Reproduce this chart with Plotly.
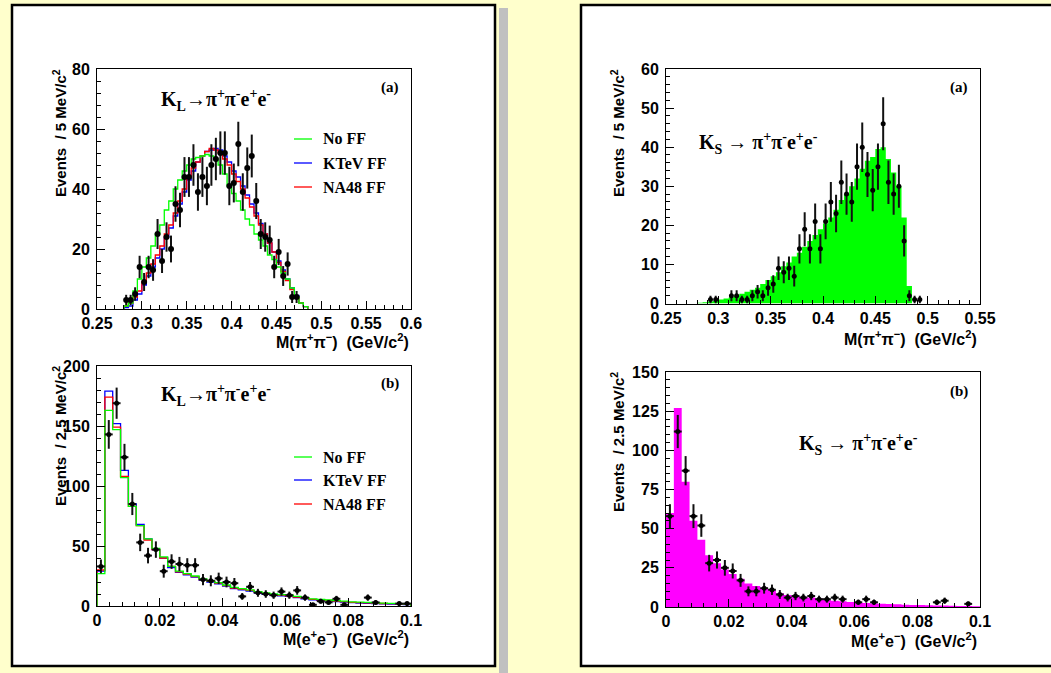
import numpy as np
import plotly.graph_objects as go

W, H = 1051, 673

# ------------------------------------------------------------------ data
MPP_BIN = 0.005      # 5 MeV bins
MEE_BIN = 0.0025     # 2.5 MeV bins

# K_L -> pi+ pi- e+ e- , M(pi pi)
KL_MPP_DATA_START = 0.280
KL_MPP_DATA = [3, 3, 5, 14, 9, 14, 13, 25, 16, 24, 20, 35, 33, 44, 44, 48, 39, 44, 41,
               48, 50, 52, 52, 41, 42, 55, 39, 47, 51, 36, 25, 24, 23, 14, 19, 11, 15, 4, 4]
KL_MPP_MC_START = 0.280
KL_MPP_NOFF = [1, 2, 6, 10, 14, 17, 21, 25, 28, 33, 36, 40, 43, 46, 48, 50, 50.5, 51, 51.5, 51,
               50, 48, 45, 41, 38.5, 36, 33, 30, 28, 25, 23, 21, 18, 16.5, 14, 12, 10, 7, 4, 2, 0.8]
KL_MPP_KTEV = [0.5, 1, 3, 5, 8, 11, 14, 17, 20, 24, 27, 31, 35, 39, 43, 46, 49, 51, 52.5, 53,
               53.5, 53, 51, 49, 46, 44, 41, 38, 35, 32, 28.5, 25, 22, 19, 16, 13, 10, 7, 4.5, 2, 0.8]
KL_MPP_NA48 = [1, 2, 4, 6, 9, 12, 15, 18, 21, 25, 28, 32, 36, 40, 44, 47, 49, 51, 52.5, 53.5,
               53, 52, 50, 48, 45, 42.5, 40, 37, 34, 31, 28, 25, 22, 19, 15.5, 12.5, 9.5, 6.5, 4, 2, 0.8]

# K_L -> pi+ pi- e+ e- , M(e e)
KL_MEE_START = 0.0
KL_MEE_DATA = [33, 143, 169, 124, 85, 53, 42, 47, 29, 37, 35, 34, 34, 22, 21, 23, 20, 19, 8, 16,
               11, 10, 9, 12, 9, 13, 7, 1, 4, 3, 6, 1, None, None, 7, 3, None, None, 2, 2]
KL_MEE_NOFF = [27, 163, 147, 107, 83, 67, 56, 48, 41, 33, 29, 27, 25, 22.5, 21, 19.5, 17.5, 15.5,
               14.5, 13.5, 12, 11, 10, 9.5, 9, 8, 7, 6, 5.5, 5, 4.5, 4, 3.5, 3.2, 3, 2.7, 2.4, 2.2, 2, 1.8]
KL_MEE_KTEV = [29, 179, 152, 113, 85, 68, 56, 47, 40, 32, 28, 26, 24, 21.5, 20, 18.5, 16.5, 14.5,
               13.5, 12.5, 11, 10, 9, 8.5, 8, 7, 6, 5.2, 4.7, 4.2, 3.7, 3.2, 2.8, 2.5, 2.2, 2, 1.8, 1.6, 1.4, 1.2]
KL_MEE_NA48 = [30, 174, 149, 108, 83, 67, 55, 47, 40, 33, 28.5, 26.5, 24.5, 22, 20.5, 19, 17, 15,
               14, 13, 11.5, 10.5, 9.5, 9, 8.5, 7.5, 6.5, 5.6, 5.1, 4.6, 4.1, 3.6, 3.1, 2.8, 2.6, 2.4, 2.1, 1.9, 1.7, 1.5]

# K_S -> pi+ pi- e+ e- , M(pi pi)
KS_MPP_DATA_START = 0.290
KS_MPP_DATA = [1, 1, None, None, 2, 2, 1, 1, 2, 3, 2, 4, 5, 9, 8, 9, 7, 14, 19, 14, 21, 14, 21,
               26, 23, 31, 28, 26, 35, 40, 33, 29, 35, 46, 31, 28, 30, 16, 2, 1, 1]
KS_MPP_MC_START = 0.280
KS_MPP_MC = [0.2, 0.3, 0.5, 0.7, 1, 1.3, 1.6, 2, 2.5, 3, 3.5, 4, 5, 6, 7, 8, 9.5, 10.5, 12, 13,
             14.5, 16, 17.5, 19, 20.5, 22, 24, 26.5, 28, 30, 32, 34.5, 36.5, 37.5, 39.5, 40, 37,
             33.5, 30, 22, 4.5]

# K_S -> pi+ pi- e+ e- , M(e e)
KS_MEE_START = 0.0
KS_MEE_DATA = [58, 112, 87, 58, 52, 28, 30, 25, 23, 17, 10, 10, 12, 11, 8, 6, 7, 6, 7, 5, 5, 6, 5,
               None, 3, 5, 3, None, None, None, None, None, None, None, 3, 4, None, None, 2, None]
KS_MEE_MC = [60, 127, 80, 55, 43, 33, 28, 24, 21, 18, 15, 13.4, 12.3, 10.6, 8.7, 7.7, 7, 6.6, 6,
             5.5, 4.5, 4, 3.6, 3.2, 2.9, 2.6, 2.3, 2.1, 1.9, 1.7, 1.5, 1.3, 1.2, 1.1, 1, 0.9, 0.8,
             0.7, 0.6, 0.5]

LEGEND_NAMES = ["No FF", "KTeV FF", "NA48 FF"]
LEGEND_COLORS = ["#00FF00", "#0000FF", "#FF0000"]


# ------------------------------------------------------------------ helpers
def steps(start, width, vals):
    n = len(vals)
    edges = [start + i * width for i in range(n + 1)]
    xs = [edges[0]] + edges + [edges[-1]]
    ys = [0] + list(vals) + [vals[-1], 0]
    return xs, ys


def points(start, width, vals):
    xs, ys = [], []
    for i, v in enumerate(vals):
        if v is None:
            continue
        xs.append(start + (i + 0.5) * width)
        ys.append(v)
    return xs, ys


def px(x):
    return x / W


def py(y):
    return 1 - y / H


fig = go.Figure()


def add_hist_line(xa, ya, start, width, vals, color, lw=1.3):
    xs, ys = steps(start, width, vals)
    fig.add_trace(go.Scatter(x=xs, y=ys, mode="lines", line=dict(color=color, width=lw, shape="hv"),
                             xaxis=xa, yaxis=ya, showlegend=False, hoverinfo="skip"))


def add_hist_fill(xa, ya, start, width, vals, color):
    xs, ys = steps(start, width, vals)
    fig.add_trace(go.Scatter(x=xs, y=ys, mode="lines", line=dict(color=color, width=0, shape="hv"),
                             fill="tozeroy", fillcolor=color,
                             xaxis=xa, yaxis=ya, showlegend=False, hoverinfo="skip"))


def add_points(xa, ya, start, width, vals, msize, xerr=True):
    xs, ys = points(start, width, vals)
    err = np.sqrt(np.array(ys, dtype=float))
    fig.add_trace(go.Scatter(
        x=xs, y=ys, mode="markers",
        marker=dict(color="black", size=msize, symbol="circle"),
        error_y=dict(type="data", array=err, visible=True, width=0, thickness=2, color="#111111"),
        error_x=dict(type="constant", value=width / 2, visible=xerr, width=0, thickness=2, color="#111111"),
        xaxis=xa, yaxis=ya, showlegend=False, hoverinfo="skip"))


# TL : K_L M(pi pi)
add_hist_line("x", "y", KL_MPP_MC_START, MPP_BIN, KL_MPP_KTEV, LEGEND_COLORS[1])
add_hist_line("x", "y", KL_MPP_MC_START, MPP_BIN, KL_MPP_NA48, LEGEND_COLORS[2])
add_hist_line("x", "y", KL_MPP_MC_START, MPP_BIN, KL_MPP_NOFF, LEGEND_COLORS[0])
add_points("x", "y", KL_MPP_DATA_START, MPP_BIN, KL_MPP_DATA, 6, xerr=False)

# BL : K_L M(ee)
add_hist_line("x2", "y2", KL_MEE_START, MEE_BIN, KL_MEE_KTEV, LEGEND_COLORS[1])
add_hist_line("x2", "y2", KL_MEE_START, MEE_BIN, KL_MEE_NA48, LEGEND_COLORS[2])
add_hist_line("x2", "y2", KL_MEE_START, MEE_BIN, KL_MEE_NOFF, LEGEND_COLORS[0])
add_points("x2", "y2", KL_MEE_START, MEE_BIN, KL_MEE_DATA, 5)

# TR : K_S M(pi pi)
add_hist_fill("x3", "y3", KS_MPP_MC_START, MPP_BIN, KS_MPP_MC, "#00FF00")
add_points("x3", "y3", KS_MPP_DATA_START, MPP_BIN, KS_MPP_DATA, 5, xerr=False)

# BR : K_S M(ee)
add_hist_fill("x4", "y4", KS_MEE_START, MEE_BIN, KS_MEE_MC, "#FF00FF")
add_points("x4", "y4", KS_MEE_START, MEE_BIN, KS_MEE_DATA, 5)

# ------------------------------------------------------------------ axes
TICKFONT = dict(family="Liberation Sans", size=16, color="black", weight="bold")


def axis(domain, rng, dtick, tick0, minor_dtick, anchor, standoff):
    return dict(domain=domain, range=rng, dtick=dtick, tick0=tick0, anchor=anchor,
                automargin=False,
                ticks="inside", ticklen=8, tickwidth=1, tickcolor="black",
                showline=True, linecolor="black", linewidth=1, mirror=True,
                showgrid=False, zeroline=False, tickfont=TICKFONT, fixedrange=True,
                ticklabelstandoff=standoff,
                minor=dict(ticks="inside", ticklen=4, dtick=minor_dtick, tick0=tick0,
                           tickcolor="black", showgrid=False))


L0, L1 = px(97), px(411)
R0, R1 = px(666), px(980)

fig.update_layout(
    template="none",
    xaxis=axis([L0, L1], [0.25, 0.6], 0.05, 0.25, 0.01, "y", 0),
    yaxis=axis([py(309), py(69)], [0, 80], 20, 0, 4, "x", 3),
    xaxis2=axis([L0, L1], [0, 0.1], 0.02, 0, 0.004, "y2", 0),
    yaxis2=axis([py(606), py(366)], [0, 200], 50, 0, 10, "x2", 3),
    xaxis3=axis([R0, R1], [0.25, 0.55], 0.05, 0.25, 0.01, "y3", 0),
    yaxis3=axis([py(303.5), py(69)], [0, 60], 10, 0, 2, "x3", 3),
    xaxis4=axis([R0, R1], [0, 0.1], 0.02, 0, 0.004, "y4", 0),
    yaxis4=axis([py(607), py(372)], [0, 150], 25, 0, 5, "x4", 3),
)

# ------------------------------------------------------------------ decorations
shapes = [
    dict(type="rect", xref="paper", yref="paper", x0=px(499), x1=px(508), y0=py(675), y1=py(8),
         fillcolor="#C0C0C0", line=dict(width=0), layer="below"),
    dict(type="rect", xref="paper", yref="paper", x0=px(12), x1=px(495), y0=py(666), y1=py(5),
         fillcolor="white", line=dict(color="black", width=2.5), layer="below"),
    dict(type="rect", xref="paper", yref="paper", x0=px(581), x1=px(1070), y0=py(666), y1=py(5),
         fillcolor="white", line=dict(color="black", width=2.5), layer="below"),
]

annotations = []
SERIF = "Liberation Serif"
SANS = "Liberation Sans"


def text(x, y, s, size, family, xanchor="left", yanchor="middle", angle=0, bold=True):
    annotations.append(dict(x=px(x), y=py(y), xref="paper", yref="paper", text=s, showarrow=False,
                            xanchor=xanchor, yanchor=yanchor, textangle=angle,
                            font=dict(family=family, size=size, color="black",
                                      weight="bold" if bold else "normal")))


KL_TITLE = "K<sub>L</sub>→π<sup>+</sup>π<sup>-</sup>e<sup>+</sup>e<sup>-</sup>"
KS_TITLE = "K<sub>S</sub> → π<sup>+</sup>π<sup>-</sup>e<sup>+</sup>e<sup>-</sup>"
text(159, 100, KL_TITLE, 20, SERIF)
text(159, 395, KL_TITLE, 20, SERIF)
text(697, 143, KS_TITLE, 20, SERIF)
text(797, 444, KS_TITLE, 20, SERIF)
text(390, 88, "(a)", 15, SERIF, xanchor="center")
text(390, 383, "(b)", 15, SERIF, xanchor="center")
text(959, 88, "(a)", 15, SERIF, xanchor="center")
text(959, 391, "(b)", 15, SERIF, xanchor="center")

# legends (drawn by hand to match the compact ROOT style)
for ys in ([139, 163, 187], [457, 480, 504]):
    for name, col, yy in zip(LEGEND_NAMES, LEGEND_COLORS, ys):
        shapes.append(dict(type="line", xref="paper", yref="paper", x0=px(294), x1=px(312),
                           y0=py(yy), y1=py(yy), line=dict(color=col, width=1.3)))
        text(321, yy, name, 16, SERIF)

# axis titles
MPP_T = "M(π<sup>+</sup>π<sup>−</sup>)  (GeV/c<sup>2</sup>)"
MEE_T = "M(e<sup>+</sup>e<sup>−</sup>)  (GeV/c<sup>2</sup>)"
text(411, 341, MPP_T, 16, SANS, xanchor="right")
text(411, 638, MEE_T, 16, SANS, xanchor="right")
text(979, 338, MPP_T, 16, SANS, xanchor="right")
text(979, 640, MEE_T, 16, SANS, xanchor="right")
text(59, 67, "Events  / 5 MeV/c<sup>2</sup>", 15, SANS, xanchor="center", yanchor="top", angle=-90)
text(59, 364, "Events  / 2.5 MeV/c<sup>2</sup>", 15, SANS, xanchor="center", yanchor="top", angle=-90)
text(617, 67, "Events  / 5 MeV/c<sup>2</sup>", 15, SANS, xanchor="center", yanchor="top", angle=-90)
text(617, 370, "Events  / 2.5 MeV/c<sup>2</sup>", 15, SANS, xanchor="center", yanchor="top", angle=-90)

fig.update_layout(
    width=W, height=H, autosize=False,
    margin=dict(l=0, r=0, t=0, b=0, pad=0),
    paper_bgcolor="#FFFFCC", plot_bgcolor="white",
    showlegend=False,
    shapes=shapes, annotations=annotations,
)

fig.write_html("out.html", config={"displayModeBar": False, "staticPlot": True},
               post_script="document.body.style.margin='0';document.body.style.overflow='hidden';")
